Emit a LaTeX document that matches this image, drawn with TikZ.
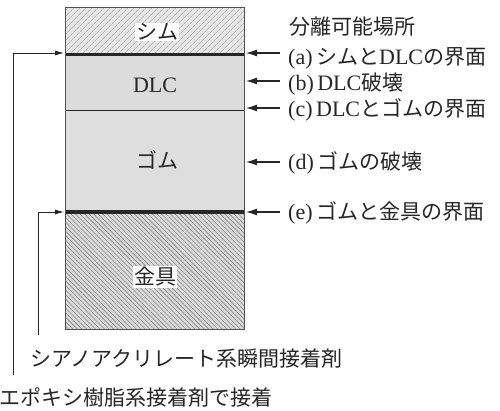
\documentclass[tikz,border=0pt]{standalone}
\usepackage{fontspec}
\setmainfont{Liberation Serif}
\newfontfamily\cjk{Noto Sans CJK JP}
\usetikzlibrary{patterns.meta,arrows.meta}
\definecolor{shimbg}{HTML}{E6E6E6}
\definecolor{hatchA}{HTML}{9A9A9A}
\definecolor{dlcfill}{HTML}{DCDCDC}
\definecolor{rubfill}{HTML}{DEDEDE}
\definecolor{metbg}{HTML}{DADADA}
\definecolor{hatchB}{HTML}{858585}
\definecolor{ink}{HTML}{262626}
\newcommand{\lat}[1]{{\fontsize{22}{24}\selectfont #1}}
\tikzset{
  layer/.style={minimum width=178pt, inner sep=0pt, draw=none},
  lab/.style={inner sep=1pt, font=\fontsize{21}{24}\selectfont, text=ink},
  rlab/.style={anchor=west, inner sep=0pt, font=\fontsize{21}{24}\selectfont, text=ink},
  arr/.style={draw=ink, line width=1.2pt, -{Latex[length=11pt,width=7pt]}},
  larr/.style={draw=ink, line width=0.8pt, -{Latex[length=9pt,width=5pt]}},
}
\begin{document}
\begin{tikzpicture}[x=1pt,y=-1pt]
\useasboundingbox (0,0) rectangle (500,410);
% layers
\node[layer, minimum height=46pt, preaction={fill=shimbg},
      pattern={Lines[angle=45,distance=4pt,line width=0.6pt]}, pattern color=hatchA] (shim) at (155,31) {};
\node[layer, minimum height=56pt, fill=dlcfill] (dlc) at (155,82) {};
\node[layer, minimum height=102pt, fill=rubfill] (rub) at (155,161) {};
\node[layer, minimum height=117pt, preaction={fill=metbg},
      pattern={Lines[angle=-45,distance=3.2pt,line width=0.6pt]}, pattern color=hatchB] (met) at (155,270.5) {};
% outline
\draw[draw=ink!80, line width=0.9pt] (shim.north west) rectangle (met.south east);
% interfaces
\draw[ink, line width=3pt] (shim.south west) -- (shim.south east);
\draw[ink, line width=1pt] (dlc.south west) -- (dlc.south east);
\draw[ink, line width=3.5pt] (rub.south west) -- (rub.south east);
% layer labels
\node[lab, fill=white] (tshim) at (157,32) {\cjk シム};
\node[lab] (tdlc) at (155,85) {\lat{DLC}};
\node[lab] (trub) at (157,160) {\cjk ゴム};
\node[lab, fill=white] (tmet) at (155,277) {\cjk 金具};
% right labels
\node[rlab] (title) at (289,27) {\cjk 分離可能場所};
\node[rlab] (la) at (288,58) {\lat{(a)}\,{\cjk シムと}\lat{DLC}{\cjk の界面}};
\node[rlab] (lb) at (288,84) {\lat{(b)}\,\lat{DLC}{\cjk 破壊}};
\node[rlab] (lc) at (288,110) {\lat{(c)}\,\lat{DLC}{\cjk とゴムの界面}};
\node[rlab] (ld) at (288,163) {\lat{(d)}\,{\cjk ゴムの破壊}};
\node[rlab] (le) at (288,213) {\lat{(e)}\,{\cjk ゴムと金具の界面}};
% right arrows
\coordinate (sa) at (280,53);  \coordinate (ea) at (246,53);
\coordinate (sb) at (280,81);  \coordinate (eb) at (246,81);
\coordinate (sc) at (280,108); \coordinate (ec) at (246,108);
\coordinate (sd) at (280,162); \coordinate (ed) at (246,162);
\coordinate (se) at (280,212); \coordinate (ee) at (246,212);
\draw[arr] (sa) -- (ea);
\draw[arr] (sb) -- (eb);
\draw[arr] (sc) -- (ec);
\draw[arr] (sd) -- (ed);
\draw[arr] (se) -- (ee);
% left connectors
\coordinate (o1) at (13,375); \coordinate (o2) at (13,53); \coordinate (o3) at (64,53);
\coordinate (i1) at (38,335); \coordinate (i2) at (38,212); \coordinate (i3) at (64,212);
\draw[larr] (o1) -- (o2) -- (o3);
\draw[larr] (i1) -- (i2) -- (i3);
% bottom labels
\node[rlab] (cyano) at (30,359) {\cjk シアノアクリレート系瞬間接着剤};
\node[rlab] (epoxy) at (-1,397) {\cjk エポキシ樹脂系接着剤で接着};
\end{tikzpicture}
\end{document}
